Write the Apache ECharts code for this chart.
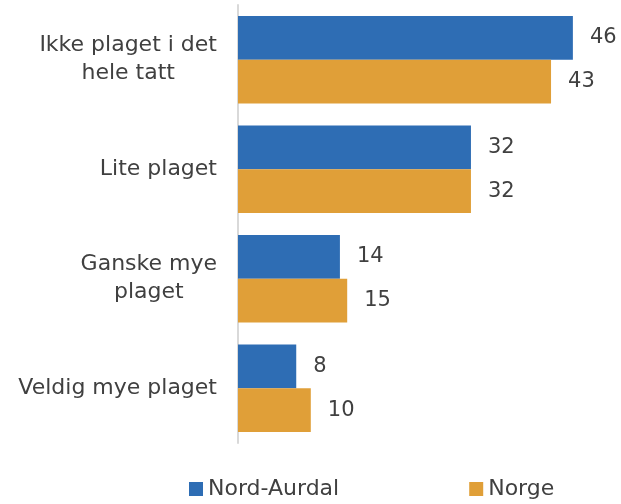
<!DOCTYPE html>
<html><head><meta charset="utf-8">
<script src="https://cdn.jsdelivr.net/npm/echarts@6/dist/echarts.min.js"></script>
<style>html,body{margin:0;padding:0;background:#fff}#c{width:621px;height:504px}</style>
</head><body><div id="c"></div>
<script>
const categories = ['Ikke plaget i det\nhele tatt', 'Lite plaget', 'Ganske mye\nplaget', 'Veldig mye plaget'];
const nordAurdal = [46, 32, 14, 8];
const norge = [43, 32, 15, 10];
const seriesNames = ['Nord-Aurdal', 'Norge'];

const font = '"DejaVu Sans", sans-serif';
const txt = '#404040';
const chart = echarts.init(document.getElementById('c'));
const lbl = {show: true, position: 'right', distance: 17, color: txt, fontSize: 21, fontFamily: font};
chart.setOption({
  animation: false,
  textStyle: {fontFamily: font},
  grid: {left: 238, right: 19, top: 5, bottom: 61, containLabel: false},
  legend: {
    top: 478, left: 189, padding: 0, itemWidth: 14, itemHeight: 14, itemGap: 130, icon: 'rect',
    textStyle: {fontSize: 22, color: txt, fontFamily: font},
    data: seriesNames
  },
  xAxis: {type: 'value', min: 0, max: 50, show: false},
  yAxis: {
    type: 'category', inverse: true, data: categories,
    axisLine: {show: true, lineStyle: {color: '#d9d9d9', width: 2}},
    axisTick: {show: false},
    axisLabel: {
      fontSize: 22, color: txt, fontFamily: font, margin: 21, align: 'right',
      formatter: v => v.split('\n').map(l => '{c|' + l + '}').join('\n'),
      rich: {c: {align: 'center', fontSize: 22, lineHeight: 28, color: txt, fontFamily: font}}
    }
  },
  series: [
    {name: seriesNames[0], type: 'bar', data: nordAurdal, barGap: '0%', barCategoryGap: '20%',
     itemStyle: {color: '#2E6DB4'}, label: lbl},
    {name: seriesNames[1], type: 'bar', data: norge, barGap: '0%', barCategoryGap: '20%',
     itemStyle: {color: '#E09F38'}, label: lbl}
  ]
});
</script></body></html>
